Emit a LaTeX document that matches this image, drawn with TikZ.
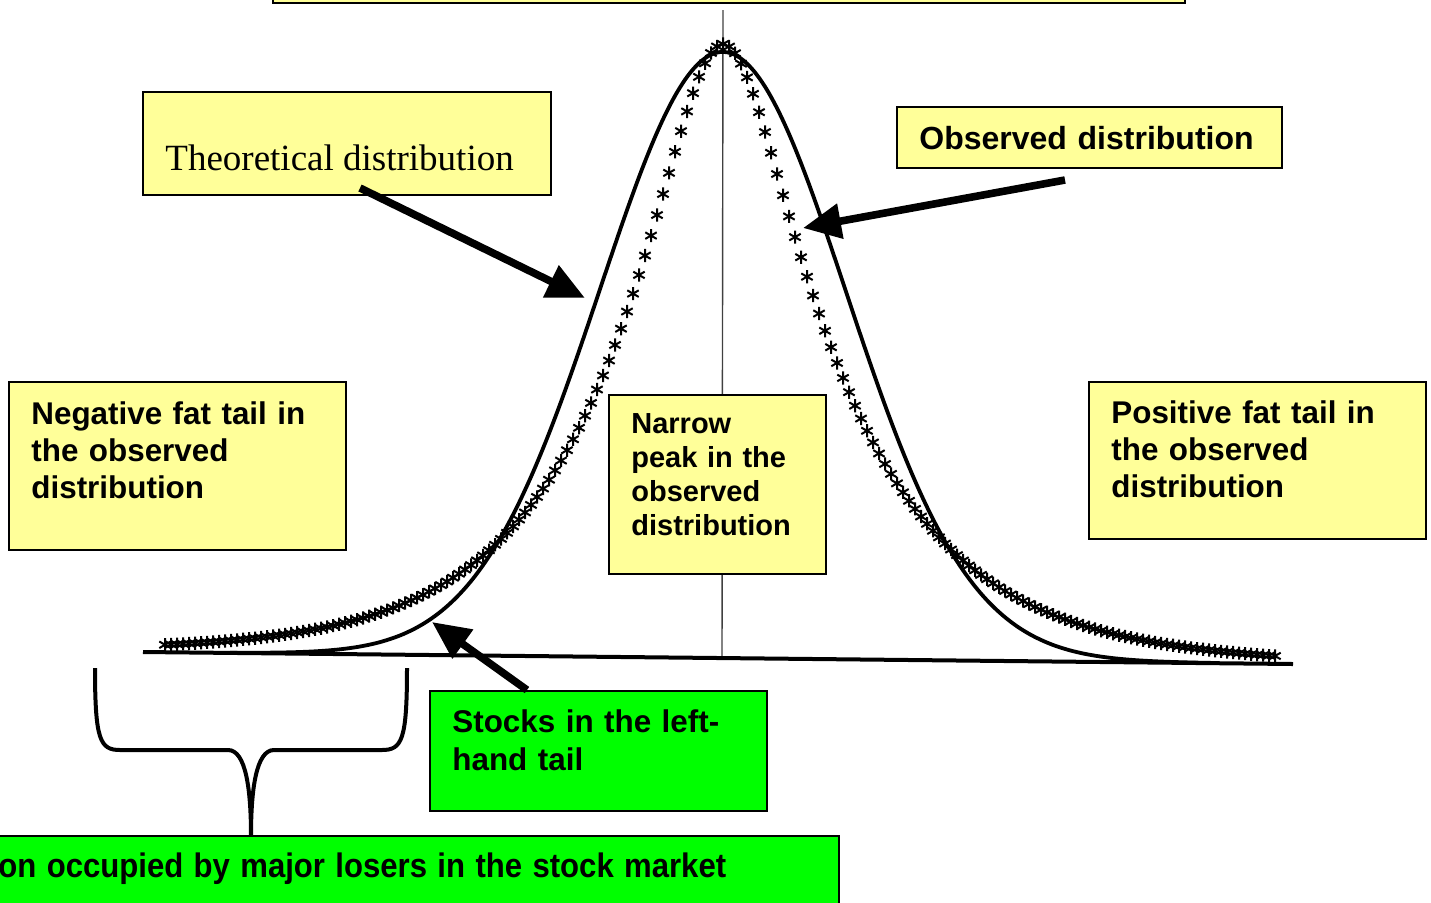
\documentclass[tikz,border=0pt]{standalone}
\usepackage{fontspec}
\setmainfont{Liberation Serif}
\setsansfont{Liberation Sans}
\usetikzlibrary{arrows.meta,fit,plotmarks}
\definecolor{noteyellow}{RGB}{255,255,153}
\definecolor{notegreen}{RGB}{0,255,0}

\begin{document}
\begin{tikzpicture}[x=0.5pt,y=-0.5pt,
  ybox/.style={draw,line width=0.8pt,fill=noteyellow,inner sep=0pt},
  gbox/.style={draw,line width=1pt,fill=notegreen,inner sep=0pt},
  notetext/.style={font=\sffamily\bfseries\fontsize{15.7}{18.5}\selectfont,anchor=base west,inner sep=0pt,align=left,text width=200pt},
  big arrow/.style={line width=3.8pt,-{Triangle[length=19pt,width=17pt]}},
  declare function={yb(\t)=652+(\t-143)*0.0104;
    lc(\u)=abs(\u)+ln(1+exp(-2*abs(\u)))-0.6931;
    theo(\t)=yb(\t)-606*exp(-0.5*((\t-723)/123)^2);
    obs(\t)=yb(\t)-614*(0.97*exp(-0.4*lc((\t-723)/45))+0.03*exp(-abs(\t-723)/250));}]

  \useasboundingbox (0,0) rectangle (1431,902);

  \coordinate (axT) at (723,10);
  \coordinate (axB) at (722,657);
  \coordinate (axL) at (143,652);
  \coordinate (axR) at (1293,664);

  \draw[line width=0.7pt,black!75] (axT) -- (axB);
  \draw[line width=2pt] (axL) -- (axR);
  \draw[line width=1.9pt] plot[domain=230:1215,samples=200,smooth] (\x,{theo(\x)});
  \draw[line width=1pt] plot[only marks,mark=asterisk,mark size=3.3pt,domain=165:1275,samples=186] (\x,{obs(\x)});

  \node[ybox,fit={(273,-20) (1185,3)}] (titlebox) {};
  \node[ybox,fit={(143,92) (551,195)}] (theobox) {};
  \node[ybox,fit={(897,107) (1282,168)}] (obsbox) {};
  \node[ybox,fit={(9,382) (346,550)}] (negbox) {};
  \node[ybox,fit={(609,395) (826,574)}] (peakbox) {};
  \node[ybox,fit={(1089,382) (1426,539)}] (posbox) {};
  \node[gbox,fit={(430,691) (767,811)}] (stockbox) {};
  \node[gbox,fit={(-20,836) (839,930)}] (regionbox) {};

  \node[anchor=base west,inner sep=0pt,font=\rmfamily\fontsize{18.5}{22}\selectfont] (theotext) at (165,170) {Theoretical distribution};
  \node[notetext,font=\sffamily\bfseries\fontsize{16}{18.5}\selectfont] (obstext) at (919,149) {Observed distribution};
  \node[notetext] (negtext) at (31,424) {Negative fat tail in\\the observed\\distribution};
  \node[notetext,font=\sffamily\bfseries\fontsize{14.5}{17}\selectfont,text width=100pt] (peaktext) at (631,433) {Narrow\\peak in the\\observed\\distribution};
  \node[notetext] (postext) at (1111,423) {Positive fat tail in\\the observed\\distribution};
  \node[notetext,font=\sffamily\bfseries\fontsize{15.7}{19}\selectfont] (stocktext) at (452,732) {Stocks in the left-\\hand tail};
  \node[notetext,font=\sffamily\bfseries\fontsize{17}{20}\selectfont,text width=420pt] (regiontext) at (-2,877) {\scalebox{0.915}[1]{on occupied by major losers in the stock market}};

  \coordinate (brL) at (95,668);
  \coordinate (brR) at (407,668);
  \coordinate (brTip) at (251,836);
  \draw[line width=2pt] (brL) .. controls (95,740) and (100,750) .. (120,750) -- (228,750) .. controls (246,750) and (251,790) .. (brTip);
  \draw[line width=2pt] (brR) .. controls (407,740) and (402,750) .. (382,750) -- (274,750) .. controls (256,750) and (251,790) .. (brTip);

  \coordinate (theoTail) at (360,188);
  \coordinate (theoTip) at (585,298);
  \coordinate (obsTail) at (1065,180);
  \coordinate (obsTip) at (803,228);
  \coordinate (stkTail) at (527,690);
  \coordinate (stkTip) at (432,622);
  \draw[big arrow] (theoTail) -- (theoTip);
  \draw[big arrow] (obsTail) -- (obsTip);
  \draw[big arrow] (stkTail) -- (stkTip);
\end{tikzpicture}
\end{document}
